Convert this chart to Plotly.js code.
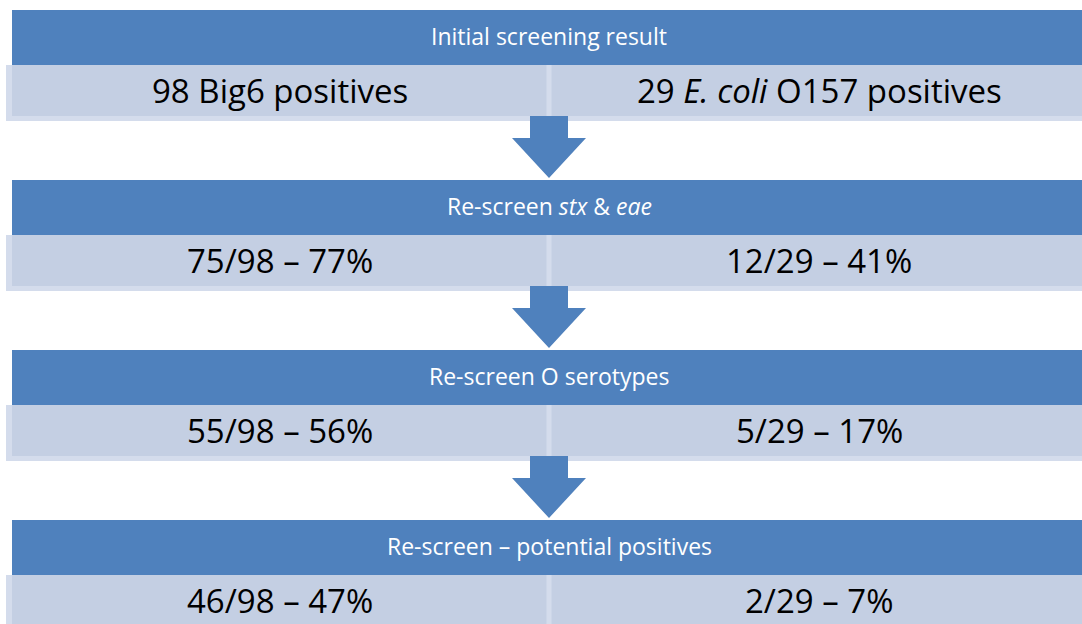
<!DOCTYPE html>
<html>
<head>
<meta charset="utf-8">
<script src="https://cdn.plot.ly/plotly-3.0.1.min.js"></script>
<style>
  html, body { margin: 0; padding: 0; background: #ffffff; }
  #chart { width: 1082px; height: 624px; }
</style>
</head>
<body>
<div id="chart"></div>
<script>
// ---- data ----
const stepTitles = [
  'Initial screening result',
  'Re-screen <i>stx</i> &amp; <i>eae</i>',
  'Re-screen O serotypes',
  'Re-screen \u2013 potential positives'
];
const big6Labels = ['98 Big6 positives', '75/98 \u2013 77%', '55/98 \u2013 56%', '46/98 \u2013 47%'];
const o157Labels = ['29 <i>E. coli</i> O157 positives', '12/29 \u2013 41%', '5/29 \u2013 17%', '2/29 \u2013 7%'];

// ---- layout constants ----
const W = 1082, H = 624;
const FONT = 'Open Sans, Noto Sans, sans-serif';
const HEADER = '#4f81bd';
const BAND = '#c4cfe3';
const BAND_EDGE = '#d4dcec';
const blockTop0 = 10, blockStep = 170;
const headerH = 55, bandH = 51, bandEdge = 5;
const left = 12, right = 1086, mid = 549;
const leftCenter = 280, rightCenter = 819;

const shapes = [];
const annotations = [];

stepTitles.forEach((title, i) => {
  const top = blockTop0 + i * blockStep;
  const hb = top + headerH;
  const bb = hb + bandH;
  // outer light band
  shapes.push({type: 'rect', xref: 'x', yref: 'y', x0: left - 6, x1: right + 6, y0: hb, y1: bb + bandEdge,
    fillcolor: BAND_EDGE, line: {width: 0}, layer: 'above'});
  // inner band
  shapes.push({type: 'rect', xref: 'x', yref: 'y', x0: left, x1: right, y0: hb, y1: bb,
    fillcolor: BAND, line: {width: 0}, layer: 'above'});
  // divider between cells
  shapes.push({type: 'rect', xref: 'x', yref: 'y', x0: mid - 2.5, x1: mid + 2.5, y0: hb, y1: bb + bandEdge,
    fillcolor: BAND_EDGE, line: {width: 0}, layer: 'above'});
  // header
  shapes.push({type: 'rect', xref: 'x', yref: 'y', x0: left, x1: right, y0: top, y1: hb,
    fillcolor: HEADER, line: {width: 0}, layer: 'above'});

  annotations.push({xref: 'x', yref: 'y', x: mid, y: top + headerH / 2, yshift: 2, text: title, showarrow: false,
    xanchor: 'center', yanchor: 'middle', font: {family: FONT, size: 23, color: '#ffffff'}});
  annotations.push({xref: 'x', yref: 'y', x: leftCenter, y: hb + bandH / 2, text: big6Labels[i], showarrow: false,
    xanchor: 'center', yanchor: 'middle', font: {family: FONT, size: 33, color: '#000000'}});
  annotations.push({xref: 'x', yref: 'y', x: rightCenter, y: hb + bandH / 2, text: o157Labels[i], showarrow: false,
    xanchor: 'center', yanchor: 'middle', font: {family: FONT, size: 33, color: '#000000'}});

  if (i < stepTitles.length - 1) {
    const s0 = bb, s1 = bb + 22, tip = top + blockStep - 2;
    const path = `M ${mid - 19} ${s0} L ${mid + 19} ${s0} L ${mid + 19} ${s1} L ${mid + 37} ${s1} ` +
                 `L ${mid} ${tip} L ${mid - 37} ${s1} L ${mid - 19} ${s1} Z`;
    shapes.push({type: 'path', xref: 'x', yref: 'y', path: path, fillcolor: HEADER, line: {width: 0}, layer: 'above'});
  }
});

const layout = {
  width: W, height: H,
  margin: {l: 0, r: 0, t: 0, b: 0, pad: 0},
  paper_bgcolor: '#ffffff', plot_bgcolor: '#ffffff',
  xaxis: {range: [0, W], visible: false, fixedrange: true},
  yaxis: {range: [H, 0], visible: false, fixedrange: true},
  showlegend: false,
  shapes: shapes,
  annotations: annotations
};

Plotly.newPlot('chart', [], layout, {displayModeBar: false, staticPlot: true});
</script>
</body>
</html>
